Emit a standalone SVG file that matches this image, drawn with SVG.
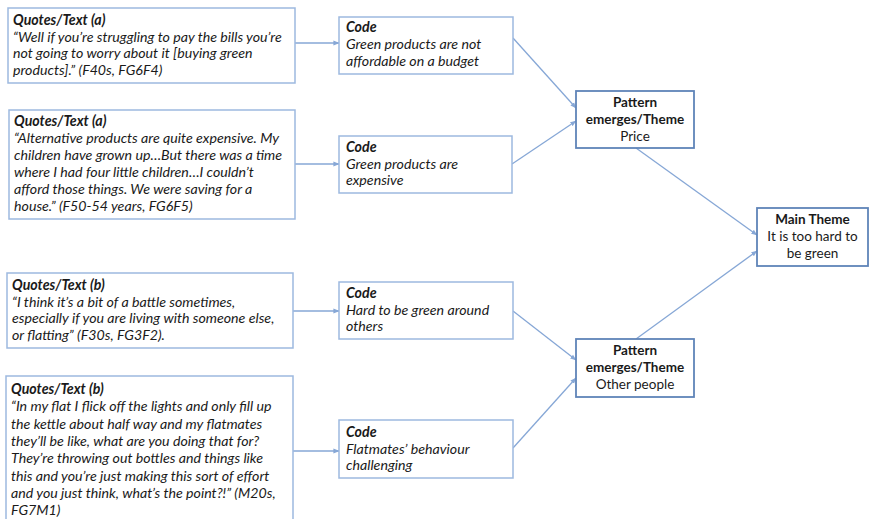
<svg xmlns="http://www.w3.org/2000/svg" width="869" height="519" viewBox="0 0 869 519">
<defs>
<style>
.q{fill:#fff;stroke:#9db9df;stroke-width:1.5}
.t{fill:#fff;stroke:#5f84b8;stroke-width:1.8}
text{font-family:Lato,"Liberation Sans",sans-serif;font-size:13.5px;fill:#1a1a1a}
.i{font-style:italic;font-size:14.2px}
.b{font-weight:bold}
.c{text-anchor:middle}
.ln{stroke:#86a7d6;stroke-width:1.3;fill:none;marker-end:url(#ah)}
</style>
<marker id="ah" viewBox="0 0 8 8" refX="7.5" refY="4" markerWidth="6" markerHeight="6" orient="auto" markerUnits="userSpaceOnUse">
<path d="M0,0.8 L8,4 L0,7.2 z" fill="#86a7d6"/>
</marker>
</defs>
<rect width="869" height="519" fill="#fff"/>
<g id="connectors">
<line class="ln" x1="295" y1="43" x2="339" y2="43"/>
<line class="ln" x1="295" y1="164" x2="339" y2="164"/>
<line class="ln" x1="293" y1="311" x2="339" y2="311"/>
<line class="ln" x1="293" y1="451" x2="339" y2="451"/>
<line class="ln" x1="513" y1="38" x2="576" y2="108"/>
<line class="ln" x1="512" y1="164" x2="576" y2="121"/>
<line class="ln" x1="513" y1="311" x2="576" y2="360"/>
<line class="ln" x1="513" y1="448" x2="576" y2="378"/>
<line class="ln" x1="636" y1="148" x2="757" y2="235"/>
<line class="ln" x1="636" y1="339" x2="757" y2="251"/>
</g>
<g id="quote1">
<rect class="q" x="8" y="8" width="287" height="75"/>
<text class="i b" x="13" y="25">Quotes/Text (a)</text>
<text class="i" x="13" y="41.5">“Well if you’re struggling to pay the bills you’re</text>
<text class="i" x="13" y="58">not going to worry about it [buying green</text>
<text class="i" x="13" y="74.5">products].” (F40s, FG6F4)</text>
</g>
<g id="quote2">
<rect class="q" x="9" y="110" width="286" height="109"/>
<text class="i b" x="14" y="126">Quotes/Text (a)</text>
<text class="i" x="14" y="143">“Alternative products are quite expensive. My</text>
<text class="i" x="14" y="160">children have grown up…But there was a time</text>
<text class="i" x="14" y="177">where I had four little children…I couldn’t</text>
<text class="i" x="14" y="194">afford those things. We were saving for a</text>
<text class="i" x="14" y="211">house.” (F50-54 years, FG6F5)</text>
</g>
<g id="quote3">
<rect class="q" x="7" y="273" width="286" height="75"/>
<text class="i b" x="12" y="290">Quotes/Text (b)</text>
<text class="i" x="12" y="306.5">“I think it’s a bit of a battle sometimes,</text>
<text class="i" x="12" y="323">especially if you are living with someone else,</text>
<text class="i" x="12" y="339.5">or flatting” (F30s, FG3F2).</text>
</g>
<g id="quote4">
<rect class="q" x="6" y="376" width="287" height="160"/>
<text class="i b" x="11" y="394">Quotes/Text (b)</text>
<text class="i" x="11" y="411.3">“In my flat I flick off the lights and only fill up</text>
<text class="i" x="11" y="428.6">the kettle about half way and my flatmates</text>
<text class="i" x="11" y="445.9">they’ll be like, what are you doing that for?</text>
<text class="i" x="11" y="463.2">They’re throwing out bottles and things like</text>
<text class="i" x="11" y="480.5">this and you’re just making this sort of effort</text>
<text class="i" x="11" y="497.8">and you just think, what’s the point?!” (M20s,</text>
<text class="i" x="11" y="515">FG7M1)</text>
</g>
<g id="code1">
<rect class="q" x="339" y="17" width="174" height="57"/>
<text class="i b" x="346" y="32">Code</text>
<text class="i" x="346" y="49">Green products are not</text>
<text class="i" x="346" y="66">affordable on a budget</text>
</g>
<g id="code2">
<rect class="q" x="339" y="136" width="173" height="57"/>
<text class="i b" x="346" y="152">Code</text>
<text class="i" x="346" y="168.5">Green products are</text>
<text class="i" x="346" y="185">expensive</text>
</g>
<g id="code3">
<rect class="q" x="339" y="282" width="174" height="57"/>
<text class="i b" x="346" y="298">Code</text>
<text class="i" x="346" y="314.5">Hard to be green around</text>
<text class="i" x="346" y="331">others</text>
</g>
<g id="code4">
<rect class="q" x="339" y="420" width="174" height="58"/>
<text class="i b" x="346" y="437">Code</text>
<text class="i" x="346" y="453.5">Flatmates’ behaviour</text>
<text class="i" x="346" y="470">challenging</text>
</g>
<g id="pattern1">
<rect class="t" x="576" y="91" width="118" height="57"/>
<text class="b c" x="635" y="107">Pattern</text>
<text class="b c" x="635" y="124">emerges/Theme</text>
<text class="c" x="635" y="141">Price</text>
</g>
<g id="pattern2">
<rect class="t" x="576" y="339" width="118" height="58"/>
<text class="b c" x="635" y="355">Pattern</text>
<text class="b c" x="635" y="372">emerges/Theme</text>
<text class="c" x="635" y="389">Other people</text>
</g>
<g id="main">
<rect class="t" x="757" y="208" width="111" height="58"/>
<text class="b c" x="812.5" y="224">Main Theme</text>
<text class="c" x="812.5" y="241">It is too hard to</text>
<text class="c" x="812.5" y="258">be green</text>
</g>
</svg>
